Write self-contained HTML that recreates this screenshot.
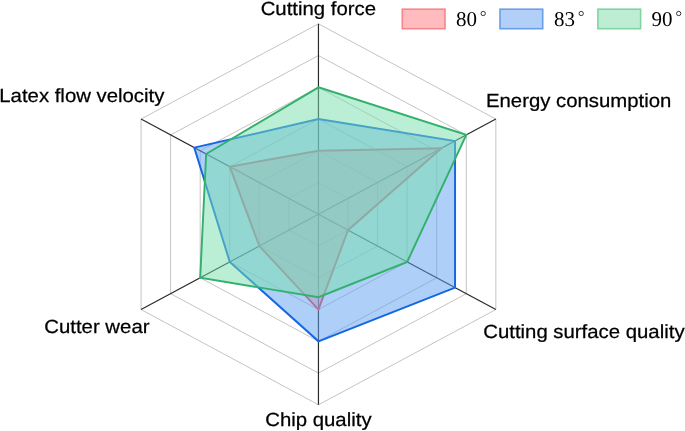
<!DOCTYPE html>
<html><head><meta charset="utf-8">
<style>
html,body{margin:0;padding:0;background:#fff;}
body{width:685px;height:431px;overflow:hidden;}
svg{display:block;will-change:transform;}
text{text-rendering:geometricPrecision;}
.ring{fill:none;stroke:#c4c4c4;stroke-width:1;}
.spoke{stroke:#2a2a2a;stroke-width:1.2;}
.lbl{font-family:"Liberation Sans",sans-serif;font-size:19.0px;fill:#000;stroke:#000;stroke-width:0.25px;}
.leg{font-family:"Liberation Serif",serif;font-size:21px;fill:#000;}
</style></head>
<body>
<svg width="685" height="431" viewBox="0 0 685 431">
<rect width="685" height="431" fill="#fff"/>
<polygon points="318.45,182.55 348.02,198.43 348.02,230.18 318.45,246.05 288.88,230.18 288.88,198.43" class="ring"/>
<polygon points="318.45,150.80 377.58,182.55 377.58,246.05 318.45,277.80 259.32,246.05 259.32,182.55" class="ring"/>
<polygon points="318.45,119.05 407.15,166.68 407.15,261.93 318.45,309.55 229.75,261.93 229.75,166.68" class="ring"/>
<polygon points="318.45,87.30 436.72,150.80 436.72,277.80 318.45,341.30 200.18,277.80 200.18,150.80" class="ring"/>
<polygon points="318.45,55.55 466.28,134.93 466.28,293.68 318.45,373.05 170.62,293.68 170.62,134.93" class="ring"/>
<polygon points="318.45,23.80 495.85,119.05 495.85,309.55 318.45,404.80 141.05,309.55 141.05,119.05" class="ring"/>
<line x1="318.45" y1="214.30" x2="318.45" y2="23.80" class="spoke"/>
<line x1="318.45" y1="214.30" x2="495.85" y2="119.05" class="spoke"/>
<line x1="318.45" y1="214.30" x2="495.85" y2="309.55" class="spoke"/>
<line x1="318.45" y1="214.30" x2="318.45" y2="404.80" class="spoke"/>
<line x1="318.45" y1="214.30" x2="141.05" y2="309.55" class="spoke"/>
<line x1="318.45" y1="214.30" x2="141.05" y2="119.05" class="spoke"/>
<polygon points="318.45,150.81 441.39,148.29 348.02,230.18 318.45,309.55 259.32,246.05 229.75,166.68" fill="#ff9a9a" fill-opacity="0.55" stroke="#f04a48" stroke-width="1.95" stroke-linejoin="miter"/>
<polygon points="318.45,119.05 455.05,140.96 455.05,287.64 318.45,341.31 229.75,261.93 194.27,147.62" fill="#5e9ff2" fill-opacity="0.5" stroke="#1467e2" stroke-width="1.95" stroke-linejoin="miter"/>
<polygon points="318.45,87.29 466.28,134.93 407.15,261.93 318.45,297.17 200.18,277.80 206.16,154.01" fill="#78e0ac" fill-opacity="0.5" stroke="#34b06e" stroke-width="1.95" stroke-linejoin="miter"/>
<text class="lbl" transform="translate(260.65,14.50) scale(1.071,1)">Cutting force</text>
<text class="lbl" transform="translate(-0.73,101.90) scale(1.071,1)">Latex flow velocity</text>
<text class="lbl" transform="translate(485.92,107.30) scale(1.071,1)">Energy consumption</text>
<text class="lbl" transform="translate(483.22,338.30) scale(1.071,1)">Cutting surface quality</text>
<text class="lbl" transform="translate(44.30,332.50) scale(1.071,1)">Cutter wear</text>
<text class="lbl" transform="translate(265.23,426.00) scale(1.071,1)">Chip quality</text>
<rect x="402.30" y="9.20" width="42.70" height="19.50" fill="#ffbbbd" stroke="#f6868a" stroke-width="1.60"/>
<text class="leg" x="456.00" y="25.90">80</text><circle cx="483.20" cy="13.50" r="2.15" fill="none" stroke="#2a2a2a" stroke-width="0.95"/>
<rect x="500.00" y="9.20" width="42.70" height="19.50" fill="#b1cff7" stroke="#6a9ee8" stroke-width="1.60"/>
<text class="leg" x="554.00" y="25.90">83</text><circle cx="581.20" cy="13.50" r="2.15" fill="none" stroke="#2a2a2a" stroke-width="0.95"/>
<rect x="597.90" y="9.20" width="42.70" height="19.50" fill="#bdeed3" stroke="#80d4a4" stroke-width="1.60"/>
<text class="leg" x="651.50" y="25.90">90</text><circle cx="678.70" cy="13.50" r="2.15" fill="none" stroke="#2a2a2a" stroke-width="0.95"/>
</svg>
</body></html>
